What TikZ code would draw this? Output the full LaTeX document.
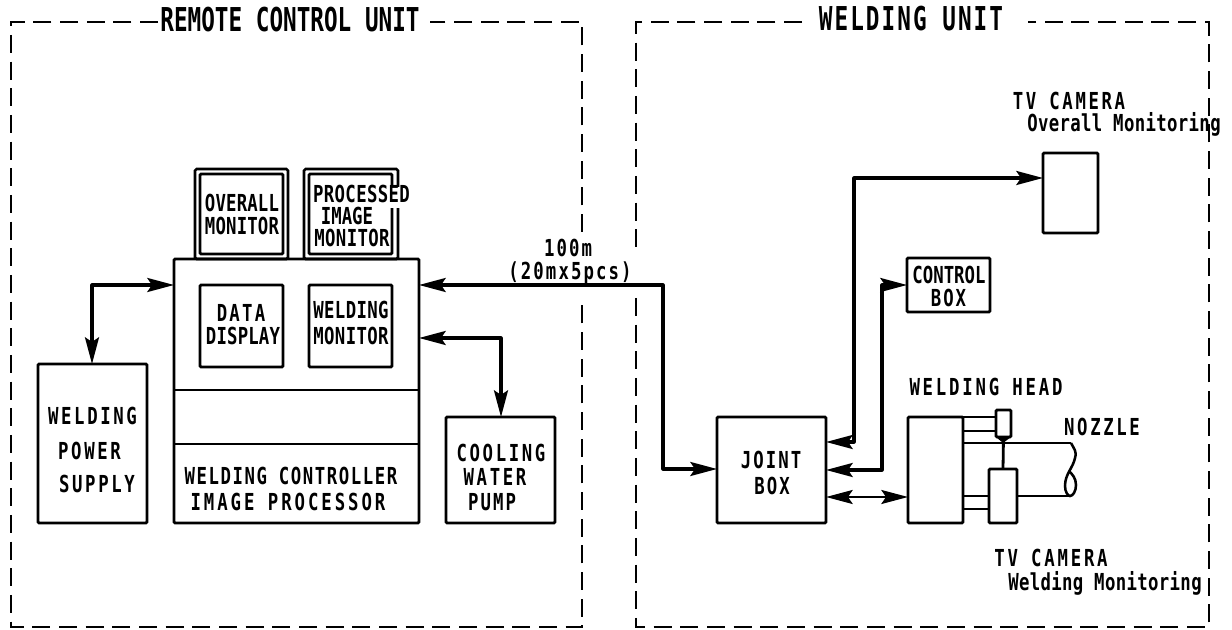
\documentclass[tikz,border=0pt]{standalone}
\usepackage{graphicx}
\usepackage{fontspec}
\setmainfont{DejaVu Sans Mono}[BoldFont={DejaVu Sans Mono Bold}]
\usetikzlibrary{arrows.meta}
\tikzset{
 x=0.75pt,y=-0.75pt,
 ink/.style={line width=2.1pt,draw=black},
 box/.style={ink,rectangle,inner sep=0pt,outer sep=0pt,rounded corners=0.8pt},
 frame/.style={line width=1.9pt,draw=black,rectangle,inner sep=0pt,outer sep=0pt,rounded corners=1.2pt},
 conn/.style={line width=2.3pt,draw=black,line join=round},
 two/.style={conn,{Stealth[length=20pt,width=10.5pt,inset=3.5pt]}-{Stealth[length=20pt,width=10.5pt,inset=3.5pt]}},
 dashline/.style={line width=2pt,draw=black,dash pattern=on 13.5pt off 6.5pt},
 lbl/.style={font=\fontsize{13}{14}\selectfont\bfseries,inner sep=0pt,outer sep=0pt,text=black,anchor=base},
 ttl/.style={font=\fontsize{17}{18}\selectfont\bfseries,inner sep=0pt,outer sep=0pt,text=black,anchor=base},
}
% box: [style]{name}{top}{left}{right}{bottom}
\newcommand{\bx}[6][box]{\node[#1,minimum width=#5*0.75pt-#4*0.75pt,minimum height=#6*0.75pt-#3*0.75pt] (#2) at ({(#4+#5)/2},{(#3+#6)/2}) {};}
% label: {name}{cx}{cy}{letter space}{text}
\newcommand{\Lb}[5]{\node[lbl] (#1) at (#2,{#3+8.5}) {\scalebox{1}[1.35]{\addfontfeature{LetterSpace=#4}#5}};}
\newcommand{\Tl}[5]{\node[ttl] (#1) at (#2,{#3+12}) {\scalebox{1}[1.45]{\addfontfeature{LetterSpace=#4}#5}};}
\begin{document}
\begin{tikzpicture}
\useasboundingbox[fill=white] (0,0) rectangle (1232,630);
% dashed unit outlines, broken around the cable label
\coordinate (la) at (158,22); \coordinate (lb) at (11,22); \coordinate (lc) at (11,627);
\coordinate (ld) at (582,627); \coordinate (lg) at (582,298); \coordinate (lh) at (582,232);
\coordinate (le) at (582,22); \coordinate (lf) at (430,22);
\draw[dashline] (la) -- (lb) -- (lc) -- (ld) -- (lg);
\draw[dashline] (lh) -- (le) -- (lf);
\coordinate (ra) at (802,22); \coordinate (rb) at (636,22); \coordinate (rg) at (636,247);
\coordinate (rh) at (636,298); \coordinate (rc) at (636,627);
\coordinate (rd) at (1209,627); \coordinate (re) at (1209,22); \coordinate (rf) at (1028,22);
\draw[dashline] (ra) -- (rb) -- (rg);
\draw[dashline] (rh) -- (rc) -- (rd) -- (re) -- (rf);
\Tl{t1}{290}{20}{0}{REMOTE CONTROL UNIT}
\Tl{t2}{911}{19}{9}{WELDING UNIT}
% monitors
\bx[frame]{ovo}{169}{195}{288}{259}
\bx[box]{ovi}{174}{200}{283}{254}
\bx[frame]{pro}{169}{304}{398}{259}
\bx[box]{pri}{174}{309}{392}{254}
\fill[white] (386,187) rectangle (412,208);
\Lb{ovt1}{242}{203}{1}{OVERALL}
\Lb{ovt2}{242}{226}{1}{MONITOR}
\Lb{prt1}{361.5}{194}{2}{PROCESSED}
\Lb{prt2}{347}{216}{0}{IMAGE}
\Lb{prt3}{352}{238}{2}{MONITOR}
% main cabinet
\bx[box]{main}{259}{174}{419}{523}
\bx[box]{dd}{285}{200}{283}{367}
\bx[box]{wm}{285}{309}{392}{367}
\coordinate (s1a) at (main.west |- 0,390); \coordinate (s1b) at (main.east |- 0,390);
\coordinate (s2a) at (main.west |- 0,444); \coordinate (s2b) at (main.east |- 0,444);
\draw[ink] (s1a) -- (s1b);
\draw[ink] (s2a) -- (s2b);
\Lb{ddt1}{241}{313}{13}{DATA}
\Lb{ddt2}{243}{336}{1}{DISPLAY}
\Lb{wmt1}{351}{310}{2}{WELDING}
\Lb{wmt2}{351}{336}{2}{MONITOR}
\Lb{wct1}{291}{476}{9}{WELDING CONTROLLER}
\Lb{wct2}{288}{502}{17}{IMAGE PROCESSOR}
% other boxes
\bx[box]{ps}{364}{38}{147}{523}
\Lb{ps1}{92.5}{416}{15}{WELDING}
\Lb{ps2}{89.5}{451}{15}{POWER}
\Lb{ps3}{97}{484}{15}{SUPPLY}
\bx[box]{pump}{417}{446}{555}{523}
\Lb{pu1}{501}{453}{15}{COOLING}
\Lb{pu2}{495}{477}{15}{WATER}
\Lb{pu3}{492}{502}{12}{PUMP}
\bx[box]{joint}{417}{717}{826}{523}
\Lb{jt1}{771}{460}{12}{JOINT}
\Lb{jt2}{772}{486}{12}{BOX}
\bx[box]{cam1}{153}{1043}{1098}{233}
\bx[box]{ctrl}{258}{907}{990}{312}
\Lb{ct1}{949}{275}{0}{CONTROL}
\Lb{ct2}{948.5}{298}{11}{BOX}
% welding head
\bx[box]{head}{417}{908}{963}{523}
\bx[box]{cam2}{410}{996}{1011}{437}
\bx[box]{cam3}{469}{989}{1017}{523}
\draw[ink] (head.east |- 0,417) -- (cam2.west |- 0,417);
\draw[ink] (head.east |- 0,431) -- (cam2.west |- 0,431);
\coordinate (nz1) at (1071,443); \coordinate (nz2) at (1070,496);
\draw[ink] (head.east |- 0,443) -- (nz1);
\draw[ink] (cam2.south) -- (cam3.north);
\draw[ink] (head.east |- 0,496) -- (cam3.west |- 0,496);
\draw[ink] (head.east |- 0,509) -- (cam3.west |- 0,509);
\draw[ink] (cam3.east |- 0,496) -- (nz2);
\draw[line width=1.9pt] (nz1) .. controls (1074,449) and (1077,451) .. (1075,458)
  .. controls (1073,468) and (1065,474) .. (1065,486) .. controls (1065,492) and (1068,496) .. (nz2)
  .. controls (1073,496) and (1076,491) .. (1076,485) .. controls (1076,478) and (1072,474) .. (1069,471);
\fill (996,437) -- (1011,437) -- (1003,443) -- cycle;
% connectors
\coordinate (j1) at (92,285);
\draw[two] (ps.north -| j1) -- (j1) -- (main.west |- j1);
\coordinate (j2) at (663,285); \coordinate (j3) at (663,469);
\draw[two] (main.east |- j2) -- (j2) -- (j3) -- (joint.west |- j3);
\coordinate (j4) at (501,338);
\draw[two] (main.east |- j4) -- (j4) -- (pump.north -| j4);
\coordinate (j5) at (854,442); \coordinate (j6) at (854,178);
\draw[two] (joint.east |- j5) -- (j5) -- (j6) -- (cam1.west |- j6);
\coordinate (j7) at (882,470); \coordinate (j8) at (882,285);
\draw[two] (joint.east |- j7) -- (j7) -- (j8) -- (ctrl.west |- j8);
\draw[two,line width=1.6pt] (joint.east |- 0,497) -- (head.west |- 0,497);
% free labels
\Lb{d1}{568}{248}{12}{100m}
\Lb{d2}{570}{271}{12}{(20mx5pcs)}
\Lb{camt1}{1069}{101}{15}{TV CAMERA}
\Lb{camt1b}{1124}{123}{2}{Overall Monitoring}
\Lb{wh}{986}{387}{16}{WELDING HEAD}
\Lb{nz}{1102}{427}{15}{NOZZLE}
\Lb{camt2}{1051}{558}{16}{TV CAMERA}
\Lb{camt2b}{1105}{582}{2}{Welding Monitoring}
\end{tikzpicture}
\end{document}
